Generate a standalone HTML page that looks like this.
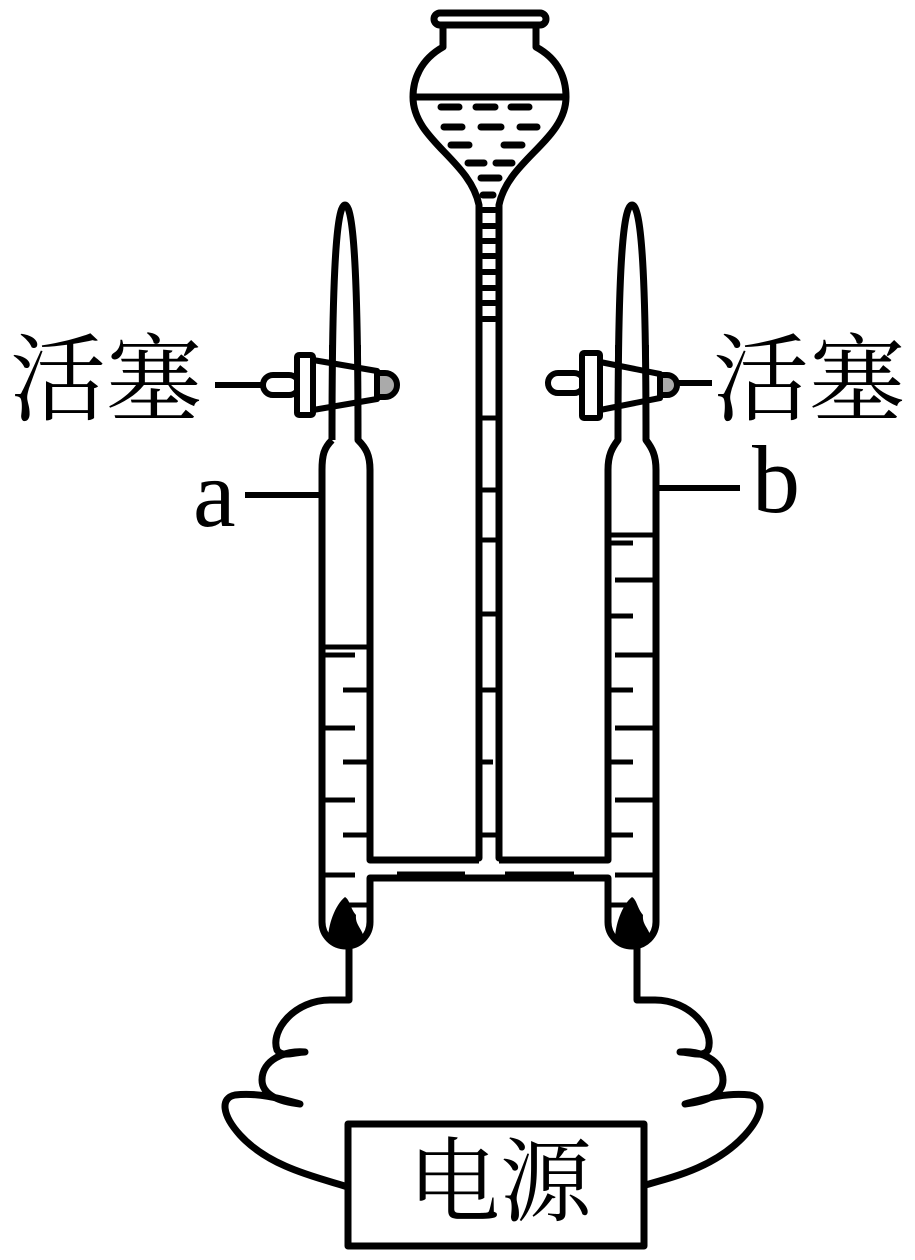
<!DOCTYPE html>
<html><head><meta charset="utf-8"><style>
html,body{margin:0;padding:0;background:#fff}
svg{display:block}
text{font-family:"Liberation Serif","Noto Serif CJK SC",serif;fill:#000}
</style></head><body>
<svg width="915" height="1260" viewBox="0 0 915 1260" xmlns="http://www.w3.org/2000/svg">
<g fill="none" stroke="#000" stroke-width="7" stroke-linejoin="round" stroke-linecap="round">
<!-- funnel -->
<rect x="434" y="13" width="112" height="12" rx="6"/>
<path d="M443 25 V47 C420 60 413 80 413 97 C413 140 470 160 479 205 V858"/>
<path d="M536 25 V47 C560 60 566 80 566 97 C566 140 508 160 499 205 V858"/>
<line x1="416" y1="97" x2="563" y2="97"/>
</g>
<g stroke="#000" stroke-width="7" stroke-linecap="round">
<line x1="441" y1="107" x2="459" y2="107"/><line x1="476" y1="107" x2="495" y2="107"/><line x1="511" y1="107" x2="529" y2="107"/>
<line x1="444" y1="127" x2="462" y2="127"/><line x1="481" y1="127" x2="501" y2="127"/><line x1="520" y1="127" x2="537" y2="127"/>
<line x1="451" y1="145" x2="469" y2="145"/><line x1="504" y1="145" x2="522" y2="145"/>
<line x1="468" y1="163" x2="484" y2="163"/><line x1="496" y1="163" x2="512" y2="163"/>
<line x1="481" y1="178" x2="499" y2="178"/>
<line x1="483" y1="195" x2="493" y2="195"/>
</g>
<g stroke="#000" stroke-width="6" stroke-linecap="round">
<line x1="483" y1="210" x2="495" y2="210"/><line x1="483" y1="226" x2="495" y2="226"/><line x1="483" y1="241" x2="495" y2="241"/>
<line x1="483" y1="256" x2="495" y2="256"/><line x1="483" y1="272" x2="495" y2="272"/><line x1="483" y1="288" x2="495" y2="288"/>
<line x1="483" y1="303" x2="495" y2="303"/><line x1="483" y1="319" x2="495" y2="319"/>
</g>
<g stroke="#000" stroke-width="5">
<line x1="481" y1="418" x2="496" y2="418"/><line x1="481" y1="490" x2="496" y2="490"/>
<line x1="481" y1="540" x2="496" y2="540"/><line x1="481" y1="614" x2="496" y2="614"/>
<line x1="481" y1="690" x2="496" y2="690"/><line x1="481" y1="762" x2="493" y2="762"/>
<line x1="481" y1="835" x2="496" y2="835"/>
</g>
<!-- left tube -->
<g fill="none" stroke="#000" stroke-width="7" stroke-linejoin="round">
<path d="M332 440 C332 300 335 205 345 205 C355 205 358 300 358 440 C366 448 370 455 370 470 V860 H479"/>
<path d="M332 440 C324 448 322 455 322 470 V922 A24 24 0 0 0 370 922 V878 H608 V922 A24 24 0 0 0 656 922 V470 C656 455 652 448 646 440 C646 300 643 205 632 205 C621 205 618 300 618 440 C612 448 608 455 608 470 V860 H499"/>
</g>
<g stroke="#000" stroke-width="5">
<line x1="324" y1="647" x2="369" y2="647"/><line x1="325" y1="655" x2="355" y2="655"/>
<line x1="343" y1="690" x2="367" y2="690"/><line x1="325" y1="728" x2="355" y2="728"/>
<line x1="343" y1="762" x2="367" y2="762"/><line x1="325" y1="800" x2="355" y2="800"/>
<line x1="343" y1="835" x2="367" y2="835"/><line x1="325" y1="875" x2="355" y2="875"/>
<line x1="343" y1="905" x2="367" y2="905"/>
<line x1="610" y1="535" x2="654" y2="535"/>
<line x1="611" y1="543" x2="633" y2="543"/><line x1="615" y1="580" x2="653" y2="580"/>
<line x1="611" y1="616" x2="633" y2="616"/><line x1="615" y1="655" x2="653" y2="655"/>
<line x1="611" y1="690" x2="633" y2="690"/><line x1="615" y1="728" x2="653" y2="728"/>
<line x1="611" y1="762" x2="633" y2="762"/><line x1="615" y1="800" x2="653" y2="800"/>
<line x1="611" y1="835" x2="633" y2="835"/><line x1="615" y1="875" x2="653" y2="875"/>
<line x1="611" y1="905" x2="633" y2="905"/>
<line x1="397" y1="874" x2="465" y2="874"/><line x1="505" y1="874" x2="574" y2="874"/>
</g>
<!-- electrodes -->
<path d="M345 897 C335 905 328 925 328 940 C333 946 340 948 345 948 C355 948 362 944 364 938 C362 928 355 925 356 915 C350 908 350 900 345 897 Z" fill="#000"/>
<path d="M632 897 C622 905 615 925 615 940 C620 946 627 948 632 948 C642 948 649 944 651 938 C649 928 642 925 643 915 C637 908 637 900 632 897 Z" fill="#000"/>
<!-- stopcocks -->
<g stroke="#000" stroke-width="6" fill="#fff" stroke-linejoin="round">
<line x1="215" y1="385" x2="262" y2="385"/>
<rect x="263" y="375" width="36" height="20" rx="10"/>
<rect x="297" y="355" width="16" height="60" rx="2"/>
<path d="M313 360 L377 371 L377 399 L313 410 Z" fill="none"/>
<path d="M377 373 H385 A12 12 0 0 1 385 397 H377 Z" fill="#aaa"/>
<line x1="332" y1="345" x2="332" y2="440"/><line x1="358" y1="345" x2="358" y2="440"/>
<line x1="665" y1="383" x2="712" y2="383"/>
<rect x="548" y="373" width="36" height="20" rx="10"/>
<rect x="582" y="353" width="18" height="65" rx="2"/>
<path d="M600 362 L660 374 L660 398 L600 410 Z" fill="none"/>
<path d="M660 375 H667 A10 10 0 0 1 667 395 H660 Z" fill="#aaa"/>
<line x1="618" y1="345" x2="618" y2="440"/><line x1="646" y1="345" x2="646" y2="440"/>
</g>
<!-- leader lines -->
<g stroke="#000" stroke-width="6">
<line x1="245" y1="495" x2="320" y2="495"/>
<line x1="658" y1="488" x2="740" y2="488"/>
</g>
<!-- wires -->
<g fill="none" stroke="#000" stroke-width="7" stroke-linejoin="round">
<path d="M349 948 V1000 H330 C295 1000 270 1030 277 1050 C282 1058 295 1052 305 1052 C285 1050 262 1060 262 1080 C262 1095 280 1102 300 1104 C285 1100 260 1092 235 1095 C220 1098 222 1115 240 1135 C270 1168 320 1178 348 1187"/>
<path d="M637 948 V1000 H655 C690 1000 715 1030 708 1050 C703 1058 690 1052 680 1052 C700 1050 723 1060 723 1080 C723 1095 705 1102 685 1104 C700 1100 725 1092 750 1095 C765 1098 763 1115 745 1135 C715 1168 670 1178 645 1185"/>
<rect x="348" y="1124" width="296" height="122"/>
</g>
<text x="10" y="413" font-size="96">活塞</text>
<text x="713" y="413" font-size="96">活塞</text>
<text x="193" y="526" font-size="96">a</text>
<text x="752" y="512" font-size="96">b</text>
<text x="408" y="1214" font-size="92">电源</text>
</svg>
</body></html>
